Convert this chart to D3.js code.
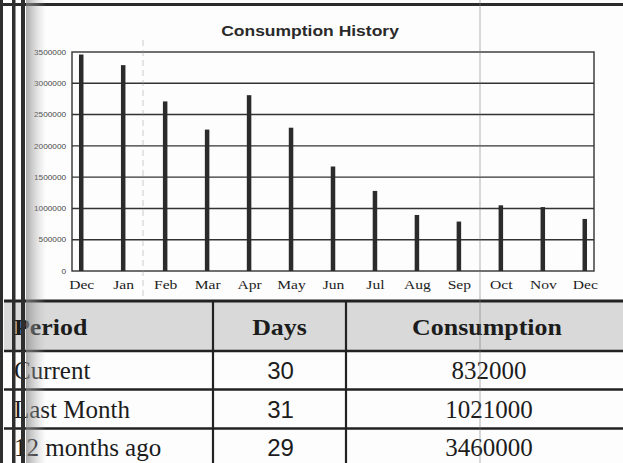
<!DOCTYPE html>
<html>
<head>
<meta charset="utf-8">
<script src="https://cdn.jsdelivr.net/npm/d3@7"></script>
<style>
  body { margin: 0; background: #fdfdfd; }
  svg { display: block; }
</style>
</head>
<body>
<svg width="623" height="463"></svg>
<script>
// chart values
let months = ["Dec", "Jan", "Feb", "Mar", "Apr", "May", "Jun", "Jul", "Aug", "Sep", "Oct", "Nov", "Dec"];
let consumption = [3460000, 3290000, 2710000, 2260000, 2810000, 2290000, 1670000, 1280000, 895000, 790000, 1050000, 1021000, 832000];
let yTicks = [0, 500000, 1000000, 1500000, 2000000, 2500000, 3000000, 3500000];

// table below the chart
let tableHeaders = ["Period", "Days", "Consumption"];
let periods = ["Current", "Last Month", "12 months ago"];
let days = [30, 31, 29];
let periodConsumption = [832000, 1021000, 3460000];

let svg = d3.select("svg"),
  plot = { left: 72, right: 594, top: 52, bottom: 271 };

let ink = "#1c1c1c";

let x = d3.scalePoint().domain(d3.range(months.length)).range([plot.left, plot.right]).padding(0.22),
  y = d3.scaleLinear().domain([0, 3500000]).range([plot.bottom, plot.top]);

// top rule of the page
svg.append("rect").attr("x", 0).attr("y", 3).attr("width", 623).attr("height", 3).attr("fill", "#2a2a2a");

// title
svg.append("text")
  .attr("transform", "translate(310,36) scale(1.25,1)")
  .attr("text-anchor", "middle")
  .style("font", "bold 14px 'Liberation Sans', Arial, sans-serif")
  .attr("fill", "#2a2a2a")
  .text("Consumption History");

let g = svg.append("g");

// horizontal grid lines
g.append("g")
  .selectAll("line")
  .data(yTicks.slice(1, -1))
  .enter()
  .append("line")
  .attr("x1", plot.left)
  .attr("x2", plot.right)
  .attr("y1", d => y(d))
  .attr("y2", d => y(d))
  .attr("stroke", "#333")
  .attr("stroke-width", 1.4);

// plot frame
g.append("rect")
  .attr("x", plot.left).attr("y", plot.top)
  .attr("width", plot.right - plot.left).attr("height", plot.bottom - plot.top)
  .attr("fill", "none").attr("stroke", "#333").attr("stroke-width", 1.4);

// left axis labels
let yAxis = g.append("g")
  .attr("transform", "translate(" + plot.left + ",0)")
  .call(d3.axisLeft(y).tickValues(yTicks).tickSize(0).tickPadding(5).tickFormat(d3.format("d")));
yAxis.select(".domain").remove();
yAxis.selectAll("text")
  .attr("transform", "scale(1.18,1)")
  .attr("fill", "#444")
  .style("font", "7px 'Liberation Sans', Arial, sans-serif");

// bottom month labels
let xAxis = g.append("g")
  .attr("transform", "translate(0," + plot.bottom + ")")
  .call(d3.axisBottom(x).tickSize(0).tickPadding(9).tickFormat(i => months[i]));
xAxis.select(".domain").remove();
xAxis.selectAll("text")
  .attr("transform", "scale(1.2,1)")
  .attr("fill", ink)
  .style("font", "13px 'Liberation Serif', 'Times New Roman', serif");

// bars
let barW = 4.5;
g.selectAll(".bar")
  .data(consumption)
  .enter()
  .append("rect")
  .attr("class", "bar")
  .attr("x", (d, i) => x(i) - barW / 2)
  .attr("y", d => y(d))
  .attr("width", barW)
  .attr("height", d => y(0) - y(d))
  .attr("fill", "#2b2b2b");

// ---- table ----
let tbl = { left: 4, right: 628, cols: [4, 213, 346, 628], rows: [301, 351, 389.5, 428.5, 467] };

svg.append("rect")
  .attr("x", tbl.left).attr("y", tbl.rows[0])
  .attr("width", tbl.right - tbl.left).attr("height", tbl.rows[1] - tbl.rows[0])
  .attr("fill", "#d9d9d9");

let tg = svg.append("g");
tg.selectAll(".hrule")
  .data(tbl.rows)
  .enter()
  .append("line")
  .attr("x1", tbl.left).attr("x2", tbl.right)
  .attr("y1", d => d).attr("y2", d => d)
  .attr("stroke", "#222")
  .attr("stroke-width", (d, i) => i === 0 ? 3 : 2.4);
tg.selectAll(".vrule")
  .data(tbl.cols.slice(1, -1))
  .enter()
  .append("line")
  .attr("x1", d => d).attr("x2", d => d)
  .attr("y1", tbl.rows[0]).attr("y2", 463)
  .attr("stroke", "#222")
  .attr("stroke-width", 2.2);

let colCenter = i => (tbl.cols[i] + tbl.cols[i + 1]) / 2;

// header
tg.selectAll(".head")
  .data(tableHeaders)
  .enter()
  .append("text")
  .attr("transform", (d, i) => "translate(" + (i === 0 ? 14 : colCenter(i)) + ",335) scale(1.08,1)")
  .attr("text-anchor", (d, i) => i === 0 ? "start" : "middle")
  .attr("fill", ink)
  .style("font", "bold 24px 'Liberation Serif', 'Times New Roman', serif")
  .text(d => d);

let baselines = [378.5, 418, 456];

tg.selectAll(".period")
  .data(periods)
  .enter()
  .append("text")
  .attr("x", 14)
  .attr("y", (d, i) => baselines[i])
  .attr("fill", ink)
  .style("font", "25px 'Liberation Serif', 'Times New Roman', serif")
  .text(d => d);

tg.selectAll(".days")
  .data(days)
  .enter()
  .append("text")
  .attr("x", colCenter(1) + 1)
  .attr("y", (d, i) => baselines[i])
  .attr("text-anchor", "middle")
  .attr("fill", ink)
  .style("font", "24px 'Liberation Sans', Arial, sans-serif")
  .text(d => d);

tg.selectAll(".cons")
  .data(periodConsumption)
  .enter()
  .append("text")
  .attr("x", colCenter(2) + 2)
  .attr("y", (d, i) => baselines[i])
  .attr("text-anchor", "middle")
  .attr("fill", ink)
  .style("font", "25px 'Liberation Serif', 'Times New Roman', serif")
  .text(d => d);

// scanner marks down the left edge and a faint vertical streak
let scan = svg.append("g");
let grad = svg.append("defs").append("linearGradient").attr("id", "shade");
grad.append("stop").attr("offset", "0%").attr("stop-color", "#888").attr("stop-opacity", 0.7);
grad.append("stop").attr("offset", "100%").attr("stop-color", "#bbb").attr("stop-opacity", 0);
scan.append("rect").attr("x", 26).attr("y", 0).attr("width", 20).attr("height", 463).attr("fill", "url(#shade)");
[[0, 3], [12, 3.5], [21, 4]].forEach(function (d) {
  scan.append("rect").attr("x", d[0]).attr("y", 0).attr("width", d[1]).attr("height", 463).attr("fill", "#2e2e2e");
});
scan.append("line").attr("x1", 480).attr("x2", 480).attr("y1", 0).attr("y2", 463)
  .attr("stroke", "#777").attr("stroke-width", 0.8).attr("opacity", 0.7);
scan.append("line").attr("x1", 143).attr("x2", 143).attr("y1", 40).attr("y2", 300)
  .attr("stroke", "#999").attr("stroke-width", 0.8).attr("stroke-dasharray", "6,4").attr("opacity", 0.6);
</script>
</body>
</html>
